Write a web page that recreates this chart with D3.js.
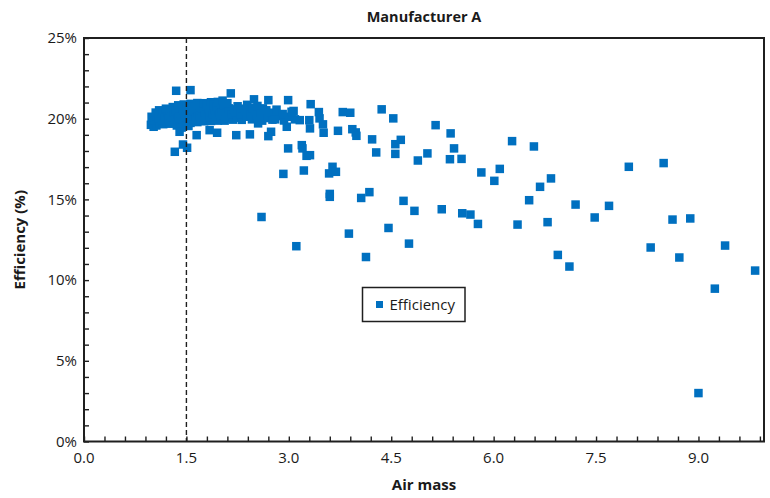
<!DOCTYPE html>
<html>
<head>
<meta charset="utf-8">
<script src="https://cdn.jsdelivr.net/npm/d3@7"></script>
<style>
  body { margin: 0; background: #fff; }
  text { font-family: "Open Sans", "Noto Sans", sans-serif; fill: #1a1a1a; }
</style>
</head>
<body>
<svg id="chart" width="770" height="498"></svg>
<script>
// Labels
const chartTitle = "Manufacturer A";
const xAxisTitle = "Air mass";
const yAxisTitle = "Efficiency (%)";
const seriesName = "Efficiency";

// Axis ticks
const xMajorTicks = [0, 1.5, 3.0, 4.5, 6.0, 7.5, 9.0];
const yMajorTicks = [0, 5, 10, 15, 20, 25];
const referenceAirMass = 1.5;

// Measurements [air mass, efficiency %] — dense band at low air mass
const coreSamples = [
  [0.98,19.62],[1.01,19.93],[0.99,20.12],[1.02,19.5],
  [1.06,19.58],[1.04,19.88],[1.07,20.17],[1.05,20.38],
  [1.11,19.73],[1.09,20.02],[1.12,20.31],[1.10,20.52],
  [1.16,19.66],[1.14,19.91],[1.17,20.22],[1.15,20.47],
  [1.21,19.81],[1.19,20.07],[1.22,20.33],[1.20,20.62],
  [1.26,19.69],[1.24,19.97],[1.27,20.24],[1.25,20.57],
  [1.31,19.86],[1.29,20.12],[1.32,20.41],[1.30,20.72],
  [1.36,19.58],[1.34,19.96],[1.37,20.21],[1.35,20.52],[1.38,20.83],
  [1.41,19.82],[1.39,20.04],[1.42,20.36],[1.40,20.67],[1.43,19.45],
  [1.46,19.68],[1.44,19.97],[1.47,20.26],[1.45,20.57],[1.46,20.88],
  [1.51,19.84],[1.49,20.12],[1.52,20.42],[1.50,20.71],[1.53,19.55],
  [1.56,19.74],[1.54,20.01],[1.57,20.29],[1.55,20.62],[1.56,20.92],
  [1.61,19.91],[1.59,20.16],[1.62,20.46],[1.60,20.77],
  [1.66,19.79],[1.64,20.07],[1.67,20.34],[1.65,20.66],[1.66,20.97],
  [1.71,19.92],[1.69,20.19],[1.72,20.52],[1.70,20.81],
  [1.76,19.84],[1.74,20.11],[1.77,20.42],[1.75,20.69],[1.76,20.96],
  [1.81,19.96],[1.79,20.24],[1.82,20.56],[1.80,20.86],
  [1.86,19.86],[1.84,20.12],[1.87,20.38],[1.85,20.72],[1.86,21.02],
  [1.91,19.94],[1.89,20.26],[1.92,20.54],[1.90,20.84],
  [1.96,19.88],[1.94,20.16],[1.97,20.47],[1.95,20.74],[1.96,21.04],
  [2.01,20.02],[1.99,20.31],[2.02,20.61],[2.00,20.91],
  [2.06,19.88],[2.04,20.21],[2.07,20.49],[2.05,20.82],[2.03,21.12],
  [2.11,20.02],[2.09,20.36],[2.12,20.64],[2.10,20.96],
  [2.18,19.94],[2.16,20.27],[2.19,20.58],
  [2.24,20.06],[2.22,20.41],[2.25,20.77],
  [2.31,19.93],[2.29,20.29],[2.32,20.62],
  [2.38,20.12],[2.36,20.48],[2.39,20.86],
  [2.46,19.96],[2.44,20.24],[2.47,20.66],
  [2.53,20.12],[2.51,20.44],[2.54,20.79],
  [2.61,19.88],[2.59,20.31],[2.62,20.64],
  [2.69,20.04],[2.67,20.52],
  [2.76,19.94],[2.74,20.37],
  [2.84,20.16],[2.82,20.56],
  [2.93,19.89],[2.91,20.29],
  [3.01,20.12],
  [3.09,19.96],[3.07,20.48]
];

// Measurements [air mass, efficiency %] — scattered readings
const spreadSamples = [
  [1.35,21.73],[1.56,21.77],[2.15,21.57],[2.49,21.2],[2.70,21.15],[2.99,21.15],[3.32,20.9],
  [1.65,18.98],[1.84,19.29],[1.95,19.13],[1.45,18.4],[1.51,18.2],[1.33,17.95],[1.40,19.19],
  [2.23,18.98],[2.43,19.03],[2.70,18.92],[2.74,19.19],[2.99,18.16],[3.19,18.36],[3.20,18.16],
  [3.26,17.7],[3.31,17.74],[2.55,19.71],[2.80,19.96],[2.97,19.5],[3.04,20.43],[3.30,19.91],
  [3.31,19.4],[3.44,20.41],[3.45,20.02],[3.50,19.65],[3.51,19.13],[3.16,19.91],
  [3.79,20.41],[3.90,20.37],[3.72,19.25],[3.93,19.35],[3.98,19.15],[3.99,18.94],
  [4.36,20.58],[4.53,20.02],[4.22,18.72],[4.64,18.69],[4.56,18.42],[4.28,17.91],[4.56,17.82],
  [3.22,16.79],[2.92,16.58],[3.64,17.02],[3.59,16.61],[3.69,16.71],[3.60,15.34],[3.60,15.16],
  [4.06,15.09],[4.18,15.45],[4.68,14.91],[2.60,13.91],[3.88,12.88],[4.46,13.23],[3.11,12.1],
  [4.13,11.43],[4.76,12.26],
  [5.15,19.6],[5.37,19.09],[6.27,18.61],[6.59,18.28],[5.42,18.16],[5.03,17.85],[4.89,17.41],
  [5.36,17.49],[5.53,17.51],[5.82,16.67],[6.09,16.89],[6.01,16.15],[6.84,16.3],[6.68,15.78],
  [6.52,14.95],[4.84,14.29],[5.24,14.39],[5.54,14.14],[5.66,14.06],[5.77,13.48],[6.35,13.44],
  [6.79,13.59],[6.94,11.56],[7.11,10.84],
  [7.98,17.02],[8.49,17.25],[7.20,14.68],[7.69,14.6],[7.48,13.88],[8.62,13.75],[8.88,13.82],
  [8.30,12.02],[8.72,11.4],[9.39,12.14],[9.83,10.59],[9.24,9.47],[9.00,3.0]
];

const markerColor = "#0070C0";
const inkColor = "#1f1f1f";

const svg = d3.select("#chart");
const plot = { left: 84, right: 764, top: 38, bottom: 441.5 };

const x = d3.scaleLinear().domain([0, 9.96]).range([plot.left, plot.right]);
const y = d3.scaleLinear().domain([0, 25]).range([plot.bottom, plot.top]);

// Scatter markers
const samples = coreSamples.concat(spreadSamples);
const size = 8.5;
svg.append("g")
  .selectAll("rect")
  .data(samples)
  .join("rect")
  .attr("x", d => x(d[0]) - size / 2)
  .attr("y", d => y(d[1]) - size / 2)
  .attr("width", size)
  .attr("height", size)
  .attr("fill", markerColor);

// Reference line at air mass 1.5
svg.append("line")
  .attr("x1", x(referenceAirMass)).attr("x2", x(referenceAirMass))
  .attr("y1", plot.top).attr("y2", plot.bottom)
  .attr("stroke", inkColor)
  .attr("stroke-width", 1.4)
  .attr("stroke-dasharray", "5,3");

// X axis (ticks point inward)
const xMinor = d3.range(0, 9.95, 0.3);
const xAxis = d3.axisBottom(x).tickValues(xMinor).tickSize(-5).tickFormat("");
svg.append("g")
  .attr("transform", `translate(0,${plot.bottom})`)
  .call(xAxis)
  .call(g => g.select(".domain").remove())
  .call(g => g.selectAll("line").attr("stroke", inkColor).attr("stroke-width", 1.4));

svg.append("g")
  .selectAll("text")
  .data(xMajorTicks)
  .join("text")
  .attr("x", d => x(d))
  .attr("y", 463)
  .attr("text-anchor", "middle")
  .attr("font-size", 15)
  .text(d => d.toFixed(1));

// Y axis (ticks point inward)
const yMinor = d3.range(0, 25.5, 1);
const yAxis = d3.axisLeft(y).tickValues(yMinor).tickSize(-5).tickFormat("");
svg.append("g")
  .attr("transform", `translate(${plot.left},0)`)
  .call(yAxis)
  .call(g => g.select(".domain").remove())
  .call(g => g.selectAll("line").attr("stroke", inkColor).attr("stroke-width", 1.4));

svg.append("g")
  .selectAll("text")
  .data(yMajorTicks)
  .join("text")
  .attr("x", 77)
  .attr("y", d => y(d))
  .attr("dy", "0.35em")
  .attr("text-anchor", "end")
  .attr("font-size", 15)
  .text(d => d + "%");

// Plot frame
svg.append("rect")
  .attr("x", plot.left).attr("y", plot.top)
  .attr("width", plot.right - plot.left)
  .attr("height", plot.bottom - plot.top)
  .attr("fill", "none")
  .attr("stroke", inkColor)
  .attr("stroke-width", 2);

// Titles
const midX = (plot.left + plot.right) / 2;
svg.append("text")
  .attr("x", midX).attr("y", 22)
  .attr("text-anchor", "middle")
  .attr("font-size", 14.5)
  .attr("font-weight", "bold")
  .text(chartTitle);

svg.append("text")
  .attr("x", midX).attr("y", 490)
  .attr("text-anchor", "middle")
  .attr("font-size", 15)
  .attr("font-weight", "bold")
  .text(xAxisTitle);

svg.append("text")
  .attr("transform", `translate(25,${(plot.top + plot.bottom) / 2}) rotate(-90)`)
  .attr("text-anchor", "middle")
  .attr("font-size", 15)
  .attr("font-weight", "bold")
  .text(yAxisTitle);

// Legend
const legend = svg.append("g").attr("transform", "translate(362.5,287.5)");
legend.append("rect")
  .attr("width", 102.5).attr("height", 34)
  .attr("fill", "#fff")
  .attr("stroke", inkColor)
  .attr("stroke-width", 1.5);
legend.append("rect")
  .attr("x", 13.5).attr("y", 13.5)
  .attr("width", 7).attr("height", 7)
  .attr("fill", markerColor);
legend.append("text")
  .attr("x", 27).attr("y", 17)
  .attr("dy", "0.35em")
  .attr("font-size", 15)
  .text(seriesName);
</script>
</body>
</html>
